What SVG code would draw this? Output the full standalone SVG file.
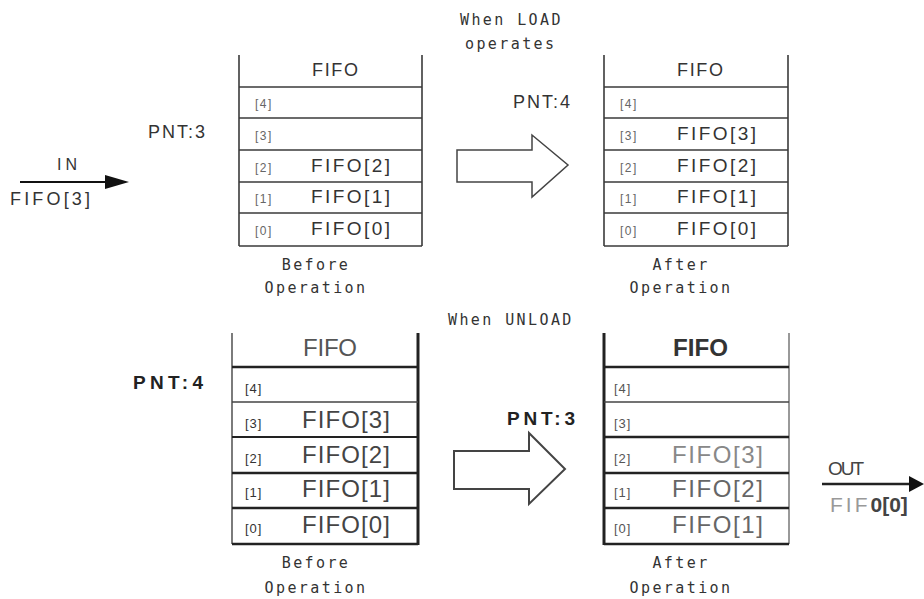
<svg xmlns="http://www.w3.org/2000/svg" width="924" height="599" viewBox="0 0 924 599">
<style>
.bg{fill:#fff}
.ln{stroke:#3a3a3a;stroke-width:1.6;fill:none}
.thk{stroke:#222;stroke-width:2.6;fill:none}
.thn{stroke:#444;stroke-width:1.4;fill:none}
.gry{stroke:#999;stroke-width:2;fill:none}
.mono{font-family:"DejaVu Sans Mono","Liberation Mono",monospace;font-size:15px;fill:#333;letter-spacing:2.4px}
.hdr{font-family:"Liberation Sans",Arial,sans-serif;font-size:18px;fill:#333}
.cnt{font-family:"Liberation Sans",Arial,sans-serif;font-size:19px;fill:#333}
.cnt2{font-family:"Liberation Sans",Arial,sans-serif;font-size:24px;fill:#444}
.idx{font-family:"Liberation Sans",Arial,sans-serif;font-size:12px;fill:#666;letter-spacing:1.5px}
.idx2{font-family:"Liberation Sans",Arial,sans-serif;font-size:13px;fill:#333;letter-spacing:1px}
.pnt{font-family:"Liberation Sans",Arial,sans-serif;font-size:18px;fill:#333}
.pntb{font-family:"Liberation Sans",Arial,sans-serif;font-size:19px;fill:#222;font-weight:bold}
.hollow{fill:#fff;stroke:#444;stroke-width:1.5}
.mid{text-anchor:middle}
</style>
<rect class="bg" x="0" y="0" width="924" height="599"/>

<g id="load-caption">
<text class="mono" x="460" y="25">When LOAD</text>
<text class="mono" x="465" y="49">operates</text>
</g>

<g id="fifo-load-before">
<line class="ln" x1="239" y1="55" x2="239" y2="246"/>
<line class="ln" x1="422" y1="55" x2="422" y2="246"/>
<line class="ln" x1="239" y1="87" x2="422" y2="87"/>
<line class="ln" x1="239" y1="118" x2="422" y2="118"/>
<line class="ln" x1="239" y1="150" x2="422" y2="150"/>
<line class="ln" x1="239" y1="182" x2="422" y2="182"/>
<line class="ln" x1="239" y1="213" x2="422" y2="213"/>
<line class="ln" x1="239" y1="246" x2="422" y2="246"/>
<text class="hdr" x="312" y="76" textLength="46" lengthAdjust="spacing">FIFO</text>
<text class="idx" x="255" y="108">[4]</text>
<text class="idx" x="255" y="140">[3]</text>
<text class="idx" x="255" y="172">[2]</text>
<text class="idx" x="255" y="203">[1]</text>
<text class="idx" x="255" y="235">[0]</text>
<text class="cnt" x="311" y="172" textLength="79" lengthAdjust="spacing">FIFO[2]</text>
<text class="cnt" x="311" y="203" textLength="79" lengthAdjust="spacing">FIFO[1]</text>
<text class="cnt" x="311" y="235" textLength="79" lengthAdjust="spacing">FIFO[0]</text>
<text class="mono mid" x="316" y="270">Before</text>
<text class="mono mid" x="316" y="293">Operation</text>
</g>

<g id="pnt-load-before">
<text class="pnt" x="148" y="138" textLength="57" lengthAdjust="spacing">PNT:3</text>
</g>

<g id="fifo-load-after">
<line class="ln" x1="604" y1="55" x2="604" y2="246"/>
<line class="ln" x1="788" y1="55" x2="788" y2="246"/>
<line class="ln" x1="604" y1="87" x2="788" y2="87"/>
<line class="ln" x1="604" y1="118" x2="788" y2="118"/>
<line class="ln" x1="604" y1="150" x2="788" y2="150"/>
<line class="ln" x1="604" y1="182" x2="788" y2="182"/>
<line class="ln" x1="604" y1="213" x2="788" y2="213"/>
<line class="ln" x1="604" y1="246" x2="788" y2="246"/>
<text class="hdr" x="677" y="76" textLength="46" lengthAdjust="spacing">FIFO</text>
<text class="idx" x="620" y="108">[4]</text>
<text class="idx" x="620" y="140">[3]</text>
<text class="idx" x="620" y="172">[2]</text>
<text class="idx" x="620" y="203">[1]</text>
<text class="idx" x="620" y="235">[0]</text>
<text class="cnt" x="677" y="140" textLength="79" lengthAdjust="spacing">FIFO[3]</text>
<text class="cnt" x="677" y="172" textLength="79" lengthAdjust="spacing">FIFO[2]</text>
<text class="cnt" x="677" y="203" textLength="79" lengthAdjust="spacing">FIFO[1]</text>
<text class="cnt" x="677" y="235" textLength="79" lengthAdjust="spacing">FIFO[0]</text>
<text class="mono mid" x="681" y="270">After</text>
<text class="mono mid" x="681" y="293">Operation</text>
</g>

<g id="pnt-load-after">
<text class="pnt" x="513" y="108" textLength="57" lengthAdjust="spacing">PNT:4</text>
</g>

<g id="unload-caption">
<text class="mono" x="448" y="325">When UNLOAD</text>
</g>

<g id="fifo-unload-before">
<line class="thn" x1="232" y1="333" x2="232" y2="544"/>
<line class="thk" x1="418" y1="333" x2="418" y2="545" style="stroke-width:3"/>
<line class="thk" x1="232" y1="367" x2="418" y2="367"/>
<line class="thn" x1="232" y1="402" x2="418" y2="402"/>
<line class="thk" x1="232" y1="437" x2="418" y2="437" style="stroke-width:2"/>
<line class="thk" x1="232" y1="473" x2="418" y2="473"/>
<line class="thk" x1="232" y1="508" x2="418" y2="508"/>
<line class="thk" x1="232" y1="544" x2="418" y2="544"/>
<text class="cnt2" x="303" y="356" textLength="54" lengthAdjust="spacing" style="fill:#555">FIFO</text>
<text class="idx2" x="245" y="393">[4]</text>
<text class="idx2" x="245" y="428">[3]</text>
<text class="idx2" x="245" y="463">[2]</text>
<text class="idx2" x="245" y="497">[1]</text>
<text class="idx2" x="245" y="533">[0]</text>
<text class="cnt2" x="302" y="428" textLength="88" lengthAdjust="spacing">FIFO[3]</text>
<text class="cnt2" x="302" y="463" textLength="88" lengthAdjust="spacing">FIFO[2]</text>
<text class="cnt2" x="302" y="497" textLength="88" lengthAdjust="spacing">FIFO[1]</text>
<text class="cnt2" x="302" y="533" textLength="88" lengthAdjust="spacing">FIFO[0]</text>
<text class="mono mid" x="316" y="568">Before</text>
<text class="mono mid" x="316" y="593">Operation</text>
</g>

<g id="pnt-unload-before">
<text class="pntb" x="133" y="389" textLength="70" lengthAdjust="spacing">PNT:4</text>
</g>

<g id="fifo-unload-after">
<line class="thk" x1="604" y1="333" x2="604" y2="545" style="stroke-width:3"/>
<line class="gry" x1="789" y1="333" x2="789" y2="544"/>
<line class="thk" x1="604" y1="367" x2="789" y2="367"/>
<line class="thn" x1="604" y1="402" x2="789" y2="402"/>
<line class="thk" x1="604" y1="437" x2="789" y2="437"/>
<line class="thk" x1="604" y1="473" x2="789" y2="473"/>
<line class="thk" x1="604" y1="508" x2="789" y2="508"/>
<line class="thk" x1="604" y1="544" x2="789" y2="544"/>
<text class="cnt2" x="673" y="356" textLength="55" lengthAdjust="spacingAndGlyphs" style="fill:#333;font-weight:bold">FIFO</text>
<text class="idx2" x="614" y="393" style="fill:#555">[4]</text>
<text class="idx2" x="614" y="428" style="fill:#555">[3]</text>
<text class="idx2" x="614" y="463" style="fill:#555">[2]</text>
<text class="idx2" x="614" y="497" style="fill:#555">[1]</text>
<text class="idx2" x="614" y="533" style="fill:#555">[0]</text>
<text class="cnt2" x="672" y="463" textLength="91" lengthAdjust="spacing" style="fill:#888">FIFO[3]</text>
<text class="cnt2" x="672" y="497" textLength="91" lengthAdjust="spacing" style="fill:#666">FIFO[2]</text>
<text class="cnt2" x="672" y="533" textLength="91" lengthAdjust="spacing" style="fill:#666">FIFO[1]</text>
<text class="mono mid" x="681" y="568">After</text>
<text class="mono mid" x="681" y="593">Operation</text>
</g>

<g id="pnt-unload-after">
<text class="pntb" x="507" y="425" textLength="68" lengthAdjust="spacing">PNT:3</text>
</g>

<g id="in-label">
<text class="pnt" x="57" y="170" textLength="20" lengthAdjust="spacing" style="font-size:16px">IN</text>
<text class="cnt" x="10" y="205" textLength="80" lengthAdjust="spacing" style="font-size:18px">FIFO[3]</text>
</g>

<g id="out-label">
<text class="pnt" x="828" y="475" textLength="36" lengthAdjust="spacing" style="font-size:19px;fill:#444">OUT</text>
<text class="cnt" x="830" y="512" style="font-size:21px"><tspan fill="#999" letter-spacing="3">FIF</tspan><tspan fill="#444" font-weight="bold">0[0]</tspan></text>
</g>

<g id="connectors">
<line x1="20" y1="182" x2="106" y2="182" stroke="#111" stroke-width="1.8"/>
<polygon points="105,175 129,182 105,189" fill="#111"/>
<line x1="822" y1="484" x2="912" y2="484" stroke="#222" stroke-width="2.5"/>
<polygon points="909,476 924,484 909,492" fill="#111"/>
<polygon class="hollow" points="457,150 532,150 532,135 568,165 532,197 532,182 457,182"/>
<polygon class="hollow" points="454,451 529,451 529,433 565,469 529,504 529,489 454,489" style="stroke-width:2"/>
</g>
</svg>
